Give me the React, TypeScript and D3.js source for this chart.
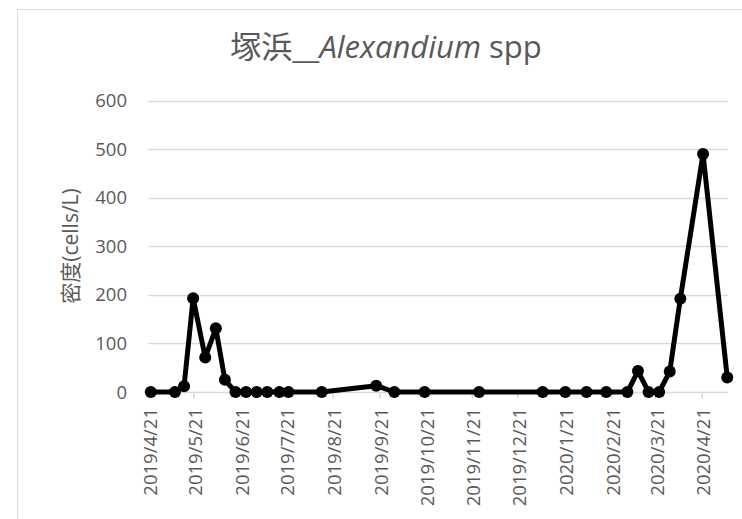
import React from "react";
import * as d3 from "d3";

const sampleDates: string[] = [
  "2019-04-22", "2019-05-08", "2019-05-14", "2019-05-20", "2019-05-28",
  "2019-06-04", "2019-06-10", "2019-06-17", "2019-06-24", "2019-07-01",
  "2019-07-08", "2019-07-16", "2019-07-22", "2019-08-13", "2019-09-18",
  "2019-09-30", "2019-10-20", "2019-11-25", "2020-01-06", "2020-01-21",
  "2020-02-04", "2020-02-17", "2020-03-02", "2020-03-09", "2020-03-16",
  "2020-03-23", "2020-03-30", "2020-04-06", "2020-04-21", "2020-05-07",
];
const densityValues: number[] = [
  0, 0, 12, 193, 71,
  131, 25, 0, 0, 0,
  0, 0, 0, 0, 13,
  0, 0, 0, 0, 0,
  0, 0, 0, 43, 0,
  0, 42, 192, 490, 30,
];
const yTicks: number[] = [0, 100, 200, 300, 400, 500, 600];
const xTickLabels: string[] = [
  "2019/4/21", "2019/5/21", "2019/6/21", "2019/7/21", "2019/8/21", "2019/9/21",
  "2019/10/21", "2019/11/21", "2019/12/21", "2020/1/21", "2020/2/21", "2020/3/21", "2020/4/21",
];

const parse = (s: string) => {
  const [y, m, d] = s.split("-").map(Number);
  return new Date(y, m - 1, d, 12);
};
const parseLabel = (s: string) => {
  const [y, m, d] = s.split("/").map(Number);
  return new Date(y, m - 1, d);
};

export default function App() {
  const W = 742, H = 519;
  const font = "'Open Sans', 'Noto Sans CJK JP', sans-serif";
  const x = d3.scaleTime()
    .domain([new Date(2019, 3, 21), new Date(2020, 4, 8)])
    .range([148.5, 728]);
  const y = d3.scaleLinear().domain([0, 600]).range([392, 100.5]);
  const pts = sampleDates.map((s, i) => ({ d: parse(s), v: densityValues[i] }));
  const line = d3.line<{ d: Date; v: number }>().x(p => x(p.d)).y(p => y(p.v));
  const grey = "#595959";
  return (
    <svg width={W} height={H} style={{ position: "fixed", left: 0, top: 0, background: "#fff" }}>
      <rect x={0} y={0} width={W} height={H} fill="#fff" />
      <rect x={17.5} y={9.5} width={800} height={600} fill="#fff" stroke="#d9d9d9" strokeWidth={1} />
      <text x={386} y={58} textAnchor="middle" fontFamily={font} fontSize={31} fill={grey}>
        <tspan fontFamily="'Noto Sans CJK JP', sans-serif">塚浜</tspan>
        <tspan>__</tspan>
        <tspan fontStyle="italic">Alexandium</tspan>
        <tspan> spp</tspan>
      </text>
      {yTicks.map(t => (
        <g key={t}>
          <line x1={148.5} x2={728} y1={Math.round(y(t)) + 0.5} y2={Math.round(y(t)) + 0.5} stroke="#d9d9d9" strokeWidth={1.3} />
          <text x={127} y={y(t)} dy="0.36em" textAnchor="end" fontFamily={font} fontSize={18.5} fill={grey}>{t}</text>
        </g>
      ))}
      {xTickLabels.map(l => {
        const tx = x(parseLabel(l));
        return (
          <g key={l}>
            <line x1={tx} x2={tx} y1={392} y2={398.5} stroke="#d9d9d9" strokeWidth={1.5} />
            <text transform={`translate(${tx + 1.5},408) rotate(-90)`} dy="0.36em" textAnchor="end"
              fontFamily={font} fontSize={18.5} fill={grey}>{l}</text>
          </g>
        );
      })}
      <text transform="translate(70,246) rotate(-90)" dy="0.36em" textAnchor="middle" fontFamily={font} fontSize={21} fill={grey}>
        <tspan fontFamily="'Noto Sans CJK JP', sans-serif">密度</tspan>(cells/L)
      </text>
      <path d={line(pts) ?? ""} fill="none" stroke="#000" strokeWidth={5} strokeLinejoin="round" />
      {pts.map((p, i) => (
        <circle key={i} cx={x(p.d)} cy={y(p.v)} r={6} fill="#000" />
      ))}
    </svg>
  );
}
